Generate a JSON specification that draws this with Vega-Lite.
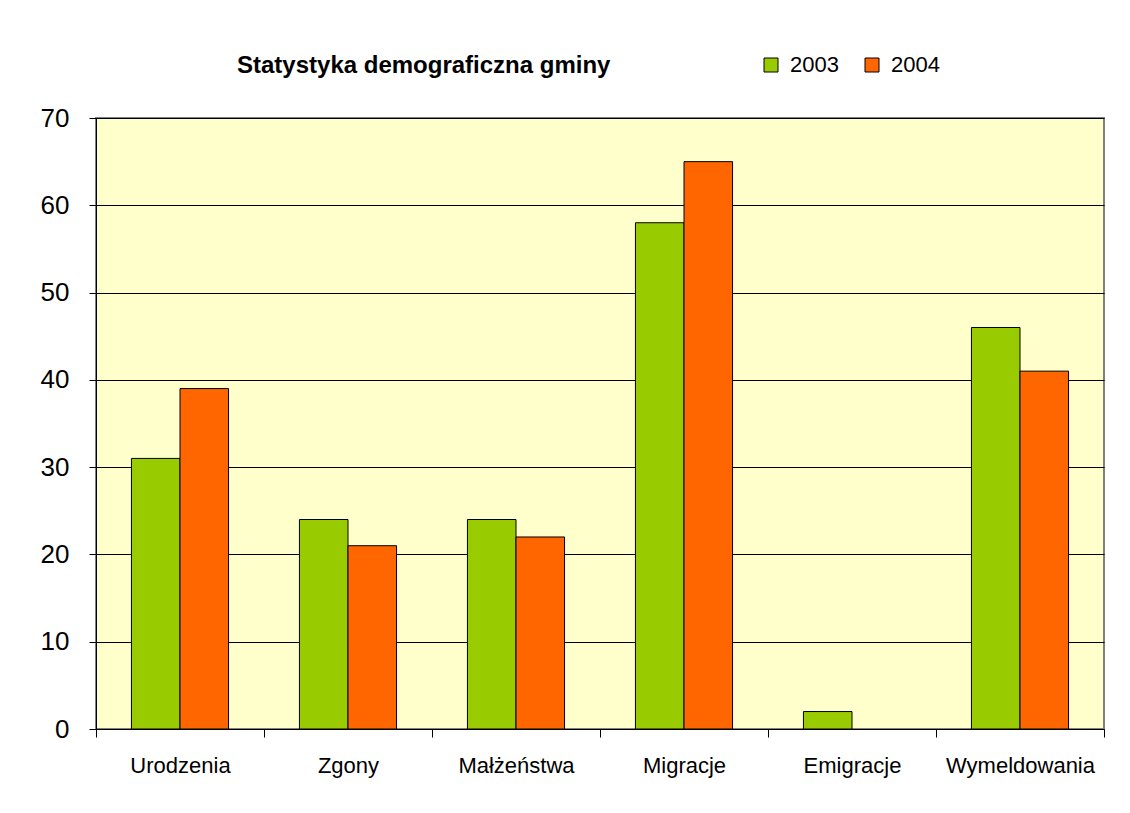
{
  "$schema": "https://vega.github.io/schema/vega-lite/v6.json",
  "autosize": {"type": "none"},
  "width": 1008,
  "height": 611,
  "padding": {"left": 96, "top": 118, "right": 26, "bottom": 84},
  "background": "white",
  "title": {
    "text": "Statystyka demograficzna gminy",
    "anchor": "start",
    "frame": "group",
    "dx": 141,
    "offset": -24,
    "font": "Liberation Sans",
    "fontSize": 24,
    "fontWeight": "bold",
    "color": "black"
  },
  "data": {
    "values": [
      {"kategoria": "Urodzenia", "rok": "2003", "wartosc": 31},
      {"kategoria": "Urodzenia", "rok": "2004", "wartosc": 39},
      {"kategoria": "Zgony", "rok": "2003", "wartosc": 24},
      {"kategoria": "Zgony", "rok": "2004", "wartosc": 21},
      {"kategoria": "Małżeństwa", "rok": "2003", "wartosc": 24},
      {"kategoria": "Małżeństwa", "rok": "2004", "wartosc": 22},
      {"kategoria": "Migracje", "rok": "2003", "wartosc": 58},
      {"kategoria": "Migracje", "rok": "2004", "wartosc": 65},
      {"kategoria": "Emigracje", "rok": "2003", "wartosc": 2},
      {"kategoria": "Emigracje", "rok": "2004", "wartosc": 0},
      {"kategoria": "Wymeldowania", "rok": "2003", "wartosc": 46},
      {"kategoria": "Wymeldowania", "rok": "2004", "wartosc": 41}
    ]
  },
  "transform": [{"filter": "datum.wartosc > 0"}],
  "mark": {"type": "bar", "stroke": "black", "strokeWidth": 1},
  "encoding": {
    "x": {
      "field": "kategoria",
      "type": "nominal",
      "sort": ["Urodzenia", "Zgony", "Małżeństwa", "Migracje", "Emigracje", "Wymeldowania"],
      "scale": {"domain": ["Urodzenia", "Zgony", "Małżeństwa", "Migracje", "Emigracje", "Wymeldowania"], "paddingInner": 0, "paddingOuter": 0},
      "axis": {
        "title": null,
        "labelAngle": 0,
        "tickBand": "extent",
        "tickSize": 8,
        "tickColor": "black",
        "domainColor": "black",
        "labelFont": "Liberation Sans",
        "labelFontSize": 22,
        "labelColor": "black",
        "labelPadding": 18,
        "grid": false
      }
    },
    "xOffset": {
      "field": "rok",
      "type": "nominal",
      "scale": {"domain": ["2003", "2004"], "paddingInner": 0, "paddingOuter": 0.73}
    },
    "y": {
      "field": "wartosc",
      "type": "quantitative",
      "scale": {"domain": [0, 70], "nice": false},
      "axis": {
        "title": null,
        "values": [0, 10, 20, 30, 40, 50, 60, 70],
        "tickSize": 7,
        "tickColor": "black",
        "domainColor": "black",
        "gridColor": "black",
        "gridOpacity": 1,
        "labelFont": "Liberation Sans",
        "labelFontSize": 26,
        "labelColor": "black",
        "labelPadding": 20
      }
    },
    "color": {
      "field": "rok",
      "type": "nominal",
      "scale": {"domain": ["2003", "2004"], "range": ["#99CC00", "#FF6600"]},
      "legend": {
        "title": null,
        "orient": "none",
        "legendX": 664,
        "legendY": -64,
        "direction": "horizontal",
        "symbolType": "square",
        "symbolSize": 196,
        "symbolStrokeColor": "black",
        "symbolStrokeWidth": 1,
        "symbolOpacity": 1,
        "labelFont": "Liberation Sans",
        "labelFontSize": 22,
        "labelColor": "black",
        "labelOffset": 8,
        "columnPadding": 22
      }
    }
  },
  "config": {
    "view": {"fill": "#FFFFCC", "stroke": "#808080", "strokeWidth": 2},
    "axis": {"domainWidth": 1, "tickWidth": 1}
  }
}
